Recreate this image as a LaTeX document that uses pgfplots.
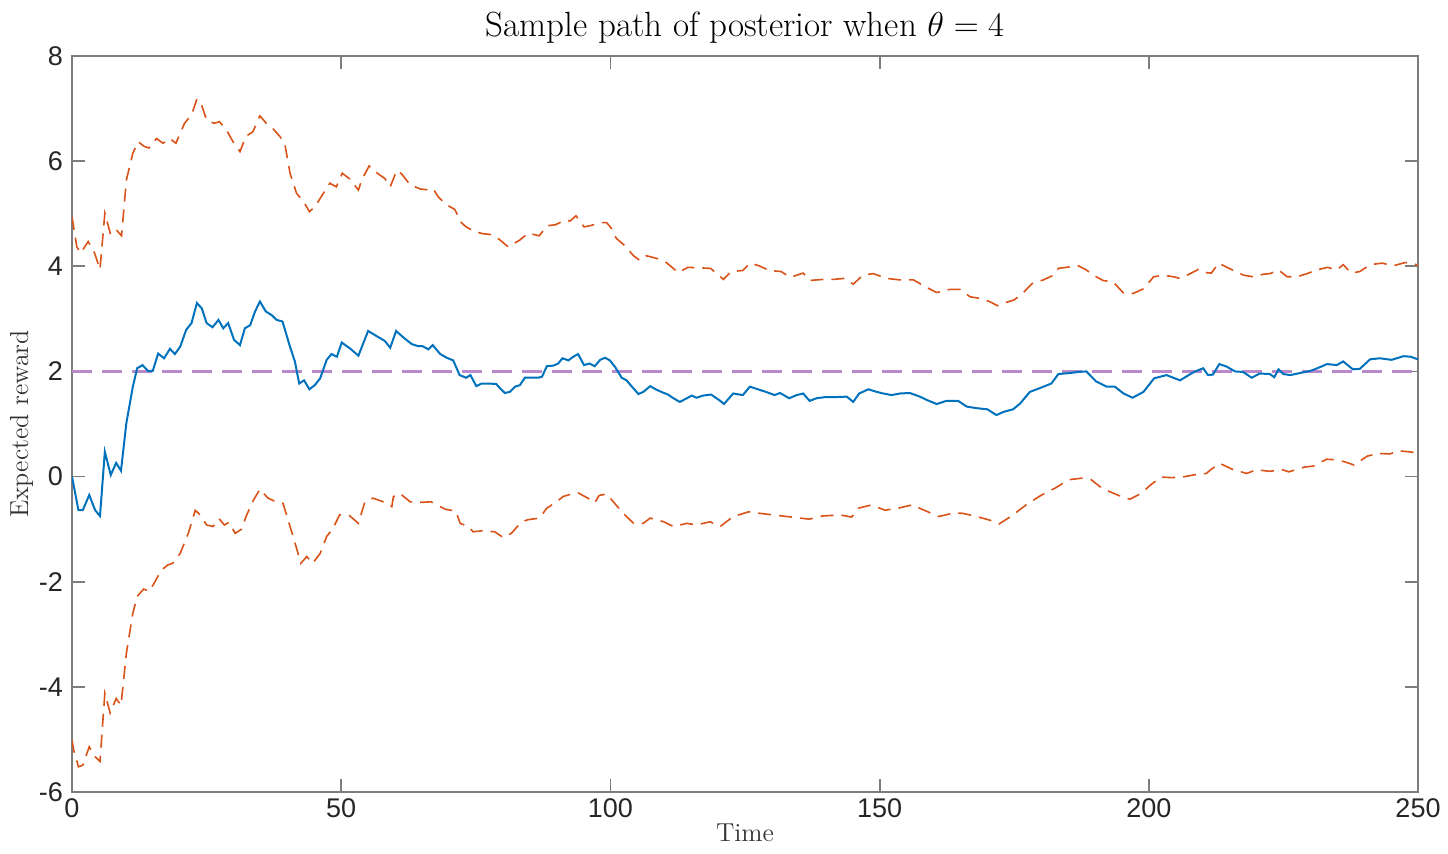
\documentclass[border=0pt]{standalone}
\usepackage{fontspec}
\newfontfamily\tickfont{Liberation Sans}
\usepackage{pgfplots}
\pgfplotsset{compat=1.18}
\definecolor{mblue}{rgb}{0,0.447,0.741}
\definecolor{morange}{rgb}{0.85,0.325,0.098}
\definecolor{mpurple}{RGB}{184,138,204}
\definecolor{axgray}{RGB}{125,125,125}
\begin{document}
\begin{tikzpicture}
\begin{axis}[
  scale only axis,
  width=673pt, height=368pt,
  xmin=0, xmax=250, ymin=-6, ymax=8,
  xtick={0,50,...,250},
  ytick={-6,-4,...,8},
  tick align=inside,
  major tick length=6.5pt,
  axis line style={axgray, line width=0.9pt},
  every tick/.style={axgray, line width=0.9pt},
  /pgf/number format/assume math mode=true,
  ticklabel style={font=\fontsize{13.5}{16}\tickfont, text=black!85},
  yticklabel style={xshift=-1pt},
  title={Sample path of posterior when $\theta = 4$},
  title style={font=\fontsize{17.5}{20}\selectfont, yshift=-3pt},
  xlabel={Time},
  ylabel={Expected reward},
  label style={font=\fontsize{13}{15}\selectfont, text=black!80},
  xlabel style={yshift=4pt},
  ylabel style={yshift=-4pt},
]
\addplot[mpurple, line width=1.6pt, dash pattern=on 10pt off 5pt] coordinates {(0,2) (250,2)};
\addplot[morange, line width=0.8pt, dash pattern=on 6.5pt off 4pt] coordinates {
(0,4.94)(0.9,4.37)(1.6,4.25)(3,4.47)(4.2,4.25)(5.2,3.94)(6.1,5.01)(7.1,4.63)(8,4.72)(9.2,4.58)
(10.1,5.64)(11.3,6.15)(12.3,6.37)(13.4,6.28)(14.3,6.25)(15.7,6.43)(16.9,6.34)(18.2,6.43)(19.3,6.34)
(20.9,6.72)(22.2,6.88)(23.2,7.18)(24.1,7.06)(25,6.78)(26.4,6.72)(27.4,6.75)(28.7,6.59)(29.9,6.37)
(31.2,6.18)(32.3,6.47)(33.6,6.56)(34.9,6.86)(36.1,6.72)(37.3,6.62)(38.6,6.47)(39.5,6.34)(40.5,5.77)
(41.7,5.39)(43,5.23)(44.1,5.04)(45.1,5.13)(46.7,5.39)(47.9,5.58)(49.1,5.51)(50.2,5.77)(51.6,5.66)
(53.2,5.45)(53.8,5.64)(55.2,5.91)(56.3,5.80)(58.1,5.67)(59.1,5.51)(60.3,5.82)(61.2,5.76)(62.8,5.55)
(64.7,5.47)(66.5,5.45)(67.1,5.47)(68.1,5.31)(69.6,5.17)(71.1,5.08)(72.3,4.83)(73.2,4.75)(74.8,4.66)
(76.3,4.62)(78.2,4.60)(79.5,4.50)(81,4.37)(83.2,4.50)(84.7,4.63)(86.8,4.58)(88.2,4.77)(89.8,4.79)
(91.6,4.88)(92.5,4.86)(93.6,4.96)(95.1,4.75)(96.2,4.77)(98.1,4.83)(99.3,4.83)(100.2,4.72)(101.1,4.53)
(102.7,4.39)(104.3,4.20)(105.5,4.11)(106.7,4.20)(108.6,4.15)(110.4,4.07)(112.6,3.88)(114.4,3.98)
(116.6,3.97)(118.6,3.96)(121,3.75)(122.4,3.90)(124.6,3.92)(125.9,4.06)(127.6,4.01)(129.5,3.92)
(131.7,3.90)(133.4,3.79)(135.8,3.87)(137,3.73)(139.5,3.75)(141.4,3.75)(143.5,3.77)(145.1,3.66)
(146.9,3.83)(148.8,3.86)(151.3,3.77)(153.8,3.74)(156.3,3.74)(158.7,3.60)(160.6,3.50)(163,3.56)
(164.9,3.56)(166.8,3.42)(168.6,3.39)(170.4,3.33)(171.9,3.25)(173.1,3.30)(175,3.36)(176.7,3.50)
(178.5,3.69)(180.4,3.74)(182.3,3.83)(183.2,3.96)(185.4,3.99)(186.9,4.01)(188.4,3.93)(189.7,3.83)
(191.5,3.73)(193.4,3.70)(195.3,3.49)(197,3.48)(199,3.57)(200.9,3.80)(202.7,3.83)(204.6,3.80)
(205.8,3.77)(207.7,3.86)(209.2,3.94)(210.5,3.88)(211.6,3.87)(213,4.06)(214.5,3.98)(216,3.91)
(217.6,3.83)(219.4,3.80)(221.3,3.85)(222.5,3.86)(224.1,3.93)(225.7,3.80)(227.5,3.80)(229.4,3.86)
(231.2,3.93)(233.2,3.98)(234.9,3.93)(236.1,4.03)(237.6,3.87)(239.2,3.90)(241.1,4.03)(243.3,4.06)
(245.4,4.01)(247.6,4.07)(248.8,4.06)(250,4.02)};
\addplot[morange, line width=0.8pt, dash pattern=on 6.5pt off 4pt] coordinates {
(0,-5.01)(0.3,-5.20)(1.2,-5.52)(2,-5.49)(3.2,-5.14)(4.3,-5.33)(5.2,-5.42)(6.1,-4.12)(7.1,-4.50)
(8.2,-4.22)(9.1,-4.35)(10.1,-3.36)(11.3,-2.60)(12.1,-2.28)(13.3,-2.14)(14.4,-2.18)(15.4,-2.00)
(16.6,-1.78)(17.8,-1.68)(18.7,-1.65)(20.1,-1.46)(21.6,-1.08)(22.9,-0.64)(23.8,-0.73)(25,-0.92)
(26.2,-0.95)(27.3,-0.80)(28.3,-0.92)(29.2,-0.87)(30.3,-1.08)(31.5,-1.00)(32.4,-0.74)(33.7,-0.45)
(34.9,-0.24)(36.4,-0.41)(37.9,-0.48)(39.2,-0.51)(40.5,-0.95)(41.7,-1.36)(42.5,-1.65)(43.6,-1.52)
(44.7,-1.65)(46.1,-1.46)(47.3,-1.14)(48.5,-0.98)(49.7,-0.73)(51.4,-0.73)(53.2,-0.89)(54.4,-0.48)
(55.9,-0.41)(58.1,-0.49)(59.4,-0.57)(59.7,-0.38)(60.9,-0.32)(62.8,-0.48)(64.9,-0.49)(66.7,-0.48)
(67.6,-0.53)(69.3,-0.62)(71.3,-0.66)(72.1,-0.89)(73.6,-0.95)(74.5,-1.05)(76.3,-1.03)(78.5,-1.05)
(80.1,-1.16)(81.6,-1.08)(83.5,-0.86)(84.7,-0.82)(86.8,-0.79)(88.2,-0.60)(90,-0.48)(91.2,-0.38)
(93.1,-0.32)(94,-0.31)(95.8,-0.41)(97.1,-0.50)(97.9,-0.36)(99.3,-0.33)(100.8,-0.51)(102.4,-0.70)
(104.3,-0.89)(106.1,-0.89)(107.4,-0.79)(109.9,-0.86)(111.7,-0.95)(114.2,-0.89)(116,-0.92)
(118.5,-0.86)(120.4,-0.95)(122.8,-0.76)(125.7,-0.67)(127.8,-0.70)(130.3,-0.73)(133.6,-0.77)
(136.9,-0.81)(139.4,-0.75)(142.7,-0.73)(144.8,-0.77)(146.1,-0.60)(148.5,-0.54)(151,-0.64)
(153.5,-0.60)(156,-0.54)(158.5,-0.65)(161,-0.76)(163.9,-0.69)(165.5,-0.70)(168,-0.76)(170.5,-0.83)
(172.2,-0.90)(174.2,-0.77)(177.6,-0.51)(180.1,-0.35)(182.6,-0.22)(185.1,-0.06)(187.6,-0.03)
(189.3,-0.06)(190.9,-0.19)(192.8,-0.29)(194.9,-0.38)(196.5,-0.43)(198.6,-0.32)(200.3,-0.16)
(202.3,-0.01)(204.2,-0.02)(206.2,-0.01)(208.3,0.03)(210.7,0.06)(211.6,0.14)(213.2,0.25)(215.7,0.13)
(218.2,0.06)(220,0.13)(222.4,0.10)(224.8,0.13)(226,0.09)(228.9,0.18)(230.6,0.20)(233,0.33)
(234.7,0.32)(236.4,0.28)(238.1,0.22)(240.6,0.39)(242.7,0.44)(244.8,0.43)(246.3,0.49)(248.4,0.47)
(250,0.45)};
\addplot[mblue, line width=1pt] coordinates {
(0,0)(1.2,-0.64)(2,-0.64)(3.2,-0.35)(4.3,-0.64)(5.2,-0.75)(6.1,0.47)(7.2,0.03)(8.2,0.26)(9.1,0.11)
(10.1,1.02)(11.3,1.71)(12.1,2.06)(13.1,2.12)(14.1,2.01)(15,2.01)(16,2.34)(17.1,2.25)(18.2,2.43)
(19.1,2.33)(20.1,2.47)(21.2,2.79)(22.2,2.92)(23.2,3.30)(24.1,3.20)(25,2.92)(26.1,2.84)(27.2,2.98)
(28.1,2.82)(29,2.92)(30.1,2.60)(31.2,2.50)(32.1,2.82)(33.1,2.88)(34,3.14)(34.9,3.33)(36,3.14)
(37.1,3.07)(38,2.98)(39.1,2.95)(40.4,2.50)(41.4,2.19)(42.2,1.77)(43.1,1.83)(44.1,1.66)(45.1,1.74)
(46.1,1.87)(47.3,2.22)(48.2,2.33)(49.2,2.28)(50.1,2.55)(51.6,2.44)(53.2,2.30)(55,2.77)(56.6,2.67)
(58.1,2.58)(59.1,2.45)(60.2,2.77)(61.5,2.65)(63.1,2.52)(64.3,2.48)(65.1,2.48)(66.2,2.42)(67,2.50)
(68.4,2.33)(69.6,2.26)(70.8,2.21)(72,1.93)(73.2,1.88)(74,1.93)(75.1,1.72)(76.1,1.77)(77.3,1.77)
(78.8,1.76)(79.5,1.68)(80.4,1.59)(81.3,1.61)(82.3,1.71)(83.2,1.74)(84.1,1.88)(85.4,1.88)(86.6,1.88)
(87.3,1.90)(88.2,2.10)(89.4,2.11)(90.3,2.15)(91.1,2.25)(92.2,2.21)(93.1,2.28)(94,2.33)(95.1,2.12)
(96.1,2.15)(97.1,2.10)(98.1,2.22)(99,2.26)(99.9,2.21)(100.9,2.08)(102.1,1.88)(103,1.83)(104,1.71)
(105.2,1.57)(106.1,1.61)(107.4,1.72)(108.6,1.65)(109.7,1.60)(110.7,1.56)(111.7,1.49)(112.9,1.42)
(114.2,1.49)(115.1,1.54)(116,1.50)(117.2,1.54)(118.7,1.56)(120.4,1.44)(121.1,1.38)(122.8,1.58)
(124.6,1.55)(125.9,1.71)(127.4,1.66)(128.9,1.61)(130.5,1.55)(131.5,1.59)(133.2,1.49)(134.6,1.55)
(135.8,1.58)(137,1.44)(138.3,1.49)(139.8,1.51)(141.4,1.51)(143.9,1.52)(145.1,1.42)(146.2,1.58)
(147.9,1.66)(149.5,1.61)(150.7,1.58)(152.2,1.55)(153.8,1.58)(155.6,1.59)(157.5,1.52)(158.7,1.46)
(160.6,1.38)(162.4,1.44)(164.6,1.44)(166.2,1.33)(168.1,1.30)(170,1.28)(171.7,1.17)(173,1.23)
(174.8,1.28)(176.1,1.39)(177.9,1.61)(179.7,1.68)(181.9,1.77)(183.2,1.95)(185.4,1.97)(186.9,1.99)
(188.4,2.00)(190.2,1.81)(192.2,1.71)(193.7,1.71)(195.3,1.58)(197,1.50)(199,1.61)(201,1.87)
(203.3,1.93)(205.8,1.83)(207.4,1.93)(208.6,2.00)(210.1,2.06)(211,1.93)(211.9,1.94)(213.1,2.14)
(214.5,2.09)(216,2.00)(217.5,1.99)(219.1,1.88)(220.6,1.96)(222.5,1.95)(223.3,1.89)(224.1,2.04)
(225,1.95)(226.3,1.93)(228.1,1.97)(230,2.01)(231.3,2.06)(233.1,2.14)(234.9,2.12)(236.1,2.19)
(237.9,2.04)(239.2,2.05)(241.1,2.23)(242.9,2.25)(245.1,2.22)(247.3,2.29)(248.6,2.28)(250,2.23)};
\end{axis}
\pgfresetboundingbox
\path (current axis.south west) ++(-36pt,-30.5pt) (current axis.north east) ++(15pt,28pt);
\end{tikzpicture}
\end{document}
